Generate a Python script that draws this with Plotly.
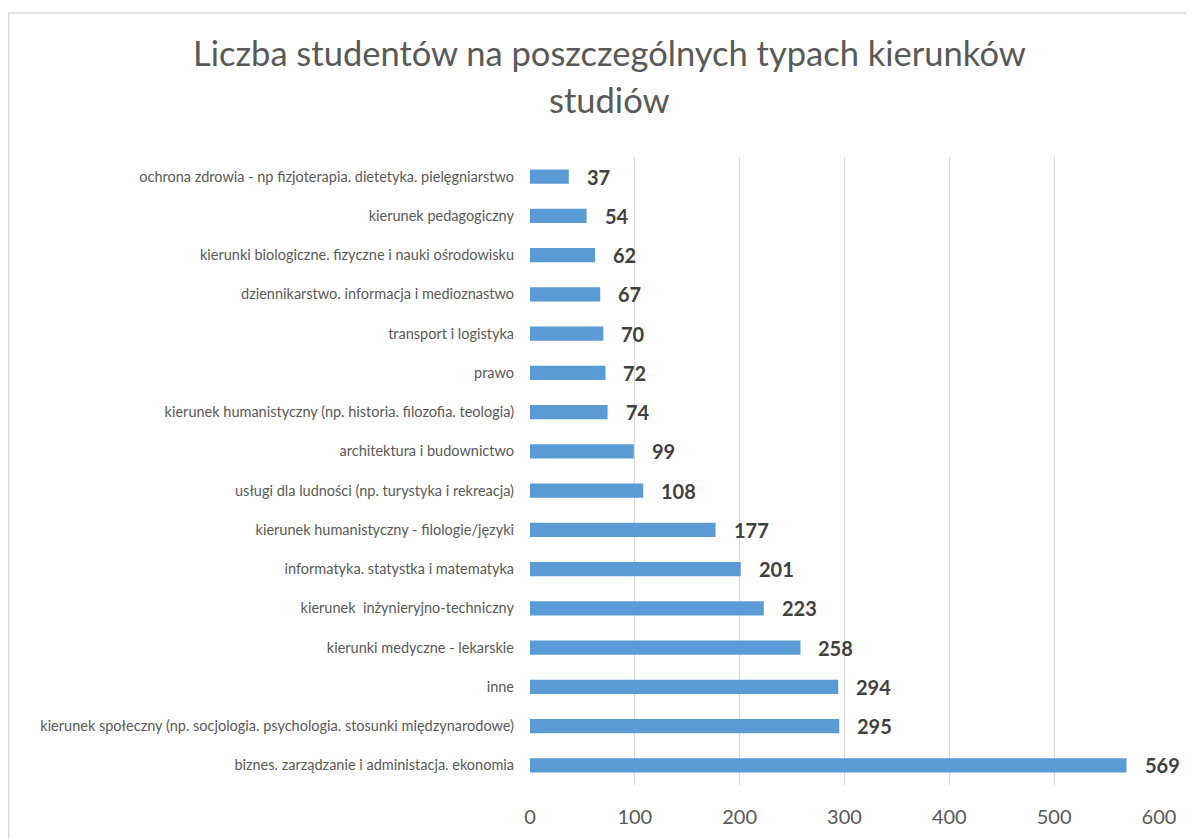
import plotly.graph_objects as go

categories = [
    "ochrona zdrowia - np fizjoterapia. dietetyka. pielęgniarstwo",
    "kierunek pedagogiczny",
    "kierunki biologiczne. fizyczne i nauki ośrodowisku",
    "dziennikarstwo. informacja i medioznastwo",
    "transport i logistyka",
    "prawo",
    "kierunek humanistyczny (np. historia. filozofia. teologia)",
    "architektura i budownictwo",
    "usługi dla ludności (np. turystyka i rekreacja)",
    "kierunek humanistyczny - filologie/języki",
    "informatyka. statystka i matematyka",
    "kierunek  inżynieryjno-techniczny",
    "kierunki medyczne - lekarskie",
    "inne",
    "kierunek społeczny (np. socjologia. psychologia. stosunki międzynarodowe)",
    "biznes. zarządzanie i administacja. ekonomia",
]
values = [37, 54, 62, 67, 70, 72, 74, 99, 108, 177, 201, 223, 258, 294, 295, 569]
x_ticks = [0, 100, 200, 300, 400, 500, 600]
title_lines = ["Liczba studentów na poszczególnych typach kierunków", "studiów"]

# page has an 8px body margin; figure is sized so it fits the window
OFF = 8
PAGE_W, PAGE_H = 1194, 839
W, H = PAGE_W - OFF, PAGE_H - OFF
plot_left, plot_right, plot_top, plot_bottom = 530, 1159, 157, 784.6
L, R = plot_left - OFF, PAGE_W - plot_right
T, B = plot_top - OFF, PAGE_H - plot_bottom
pw, ph = plot_right - plot_left, plot_bottom - plot_top


def px(page_x):
    return (page_x - plot_left) / pw


def py(page_y):
    return (plot_bottom - page_y) / ph


fig = go.Figure(go.Bar(
    x=values, y=categories, orientation="h",
    marker=dict(color="#5B9BD5", line=dict(width=0)),
    hoverinfo="x+y",
))

for c, v in zip(categories, values):
    fig.add_annotation(
        x=v, y=c, xref="x", yref="y", text=f"<b>{v}</b>", showarrow=False,
        xanchor="left", yanchor="middle", xshift=16,
        font=dict(family="Lato", size=20, color="#404040"),
    )

fig.add_annotation(x=px(609), y=py(53), xref="paper", yref="paper", text=title_lines[0],
                   showarrow=False, xanchor="center", yanchor="middle",
                   font=dict(family="Lato", size=34.5, color="#595959"))
fig.add_annotation(x=px(609), y=py(100), xref="paper", yref="paper", text=title_lines[1],
                   showarrow=False, xanchor="center", yanchor="middle",
                   font=dict(family="Lato", size=34.5, color="#595959"))

fig.add_shape(type="rect", xref="paper", yref="paper",
              x0=px(8.5), x1=px(1220), y0=py(870), y1=py(13),
              line=dict(color="#D9D9D9", width=1.5), fillcolor="rgba(0,0,0,0)", layer="below")

fig.update_layout(
    width=W, height=H,
    margin=dict(l=L, r=R, t=T, b=B, autoexpand=False),
    paper_bgcolor="white", plot_bgcolor="white",
    bargap=0.64, showlegend=False,
    xaxis=dict(range=[0, 600], tickvals=x_ticks, showgrid=True, gridcolor="#D9D9D9", gridwidth=1.3,
               zeroline=False, showline=False, ticks="",
               tickfont=dict(family="Lato", size=20, color="#595959"), ticklabelstandoff=18),
    yaxis=dict(autorange="reversed", showgrid=False, zeroline=False, showline=False, ticks="",
               tickfont=dict(family="Lato", size=14.5, color="#595959"), ticklabelstandoff=15),
)

fig.write_html("out.html")
